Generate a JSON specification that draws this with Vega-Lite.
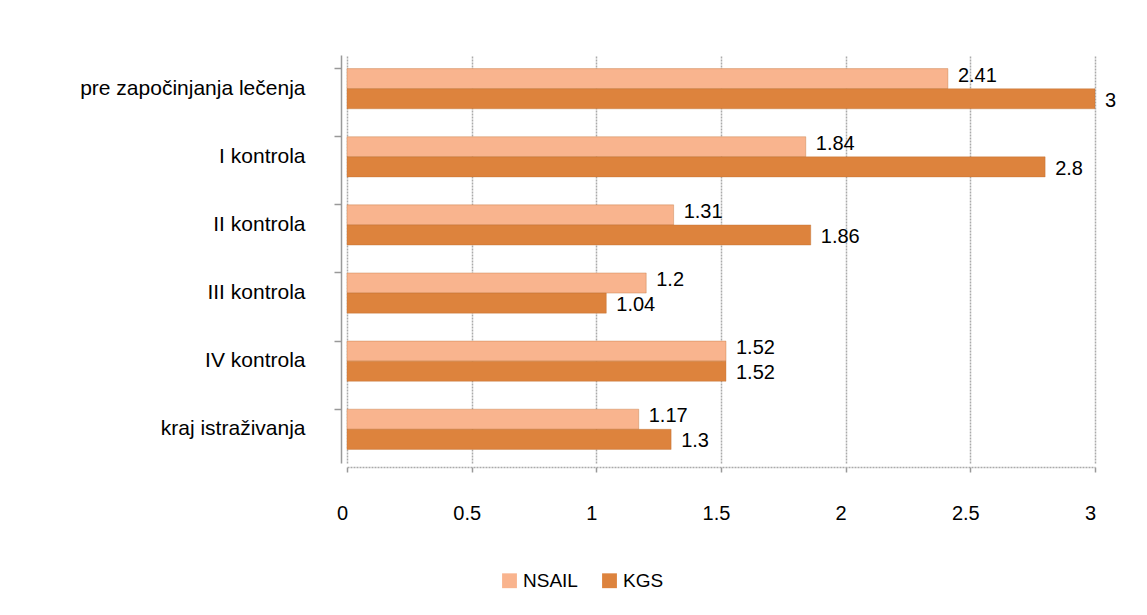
{
  "$schema": "https://vega.github.io/schema/vega-lite/v6.json",
  "autosize": {"type": "none"},
  "padding": {"left": 347, "top": 55, "right": 52, "bottom": 152},
  "width": 748,
  "height": 408,
  "background": "white",
  "config": {
    "font": "Liberation Sans",
    "view": {"stroke": null}
  },
  "data": {
    "values": [
      {"cat": "pre započinjanja lečenja", "series": "NSAIL", "value": 2.41},
      {"cat": "pre započinjanja lečenja", "series": "KGS", "value": 3},
      {"cat": "I kontrola", "series": "NSAIL", "value": 1.84},
      {"cat": "I kontrola", "series": "KGS", "value": 2.8},
      {"cat": "II kontrola", "series": "NSAIL", "value": 1.31},
      {"cat": "II kontrola", "series": "KGS", "value": 1.86},
      {"cat": "III kontrola", "series": "NSAIL", "value": 1.2},
      {"cat": "III kontrola", "series": "KGS", "value": 1.04},
      {"cat": "IV kontrola", "series": "NSAIL", "value": 1.52},
      {"cat": "IV kontrola", "series": "KGS", "value": 1.52},
      {"cat": "kraj istraživanja", "series": "NSAIL", "value": 1.17},
      {"cat": "kraj istraživanja", "series": "KGS", "value": 1.3}
    ]
  },
  "encoding": {
    "y": {
      "field": "cat", "type": "nominal",
      "sort": ["pre započinjanja lečenja", "I kontrola", "II kontrola", "III kontrola", "IV kontrola", "kraj istraživanja"],
      "scale": {"paddingInner": 0.41, "paddingOuter": 0.2},
      "axis": {
        "title": null, "labelFontSize": 21, "labelColor": "#000", "labelPadding": 29,
        "domainColor": "#999", "domainWidth": 1.5, "tickColor": "#999", "tickSize": 7, "tickWidth": 1.5,
        "bandPosition": 0, "offset": 6, "labelLimit": 400
      }
    },
    "yOffset": {"field": "series", "type": "nominal", "sort": ["NSAIL", "KGS"]},
    "x": {
      "field": "value", "type": "quantitative",
      "scale": {"domain": [0, 3], "nice": false},
      "axis": {
        "title": null, "values": [0, 0.5, 1, 1.5, 2, 2.5, 3], "format": "~g",
        "labelFontSize": 20, "labelColor": "#000", "labelPadding": 31,
        "labelFlush": false, "labelOffset": -5,
        "domainColor": "#aaa", "domainDash": [2, 1], "domainWidth": 1.5,
        "tickColor": "#999", "tickSize": 5, "tickWidth": 1.5,
        "grid": true, "gridColor": "#aaa", "gridDash": [2, 1], "gridWidth": 1.5,
        "offset": 4
      }
    }
  },
  "layer": [
    {
      "mark": {"type": "bar", "stroke": "#b86a2e", "strokeWidth": 0.6, "strokeOpacity": 0.6},
      "encoding": {
        "color": {
          "field": "series", "type": "nominal",
          "scale": {"domain": ["NSAIL", "KGS"], "range": ["#F9B48E", "#DD833D"]},
          "legend": {
            "title": null, "orient": "none", "direction": "horizontal",
            "legendX": 153, "legendY": 516, "symbolType": "square", "symbolSize": 220,
            "symbolStrokeWidth": 0, "labelFontSize": 19, "labelColor": "#000", "columnPadding": 22
          }
        }
      }
    },
    {
      "transform": [{"filter": "datum.series === 'NSAIL'"}],
      "mark": {"type": "text", "align": "left", "baseline": "middle", "dx": 10, "dy": -3, "fontSize": 20, "color": "#000"},
      "encoding": {"text": {"field": "value", "type": "quantitative"}}
    },
    {
      "transform": [{"filter": "datum.series === 'KGS'"}],
      "mark": {"type": "text", "align": "left", "baseline": "middle", "dx": 10, "dy": 2, "fontSize": 20, "color": "#000"},
      "encoding": {"text": {"field": "value", "type": "quantitative"}}
    }
  ]
}
